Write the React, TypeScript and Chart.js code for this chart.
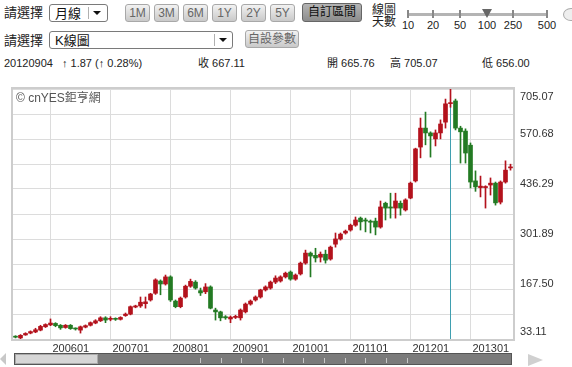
import React, { useEffect, useRef } from "react";
import { Chart, registerables } from "chart.js";
Chart.register(...registerables);

const months = [
  "200506","200507","200508","200509","200510","200511","200512",
  "200601","200602","200603","200604","200605","200606","200607","200608","200609","200610","200611","200612",
  "200701","200702","200703","200704","200705","200706","200707","200708","200709","200710","200711","200712",
  "200801","200802","200803","200804","200805","200806","200807","200808","200809","200810","200811","200812",
  "200901","200902","200903","200904","200905","200906","200907","200908","200909","200910","200911","200912",
  "201001","201002","201003","201004","201005","201006","201007","201008","201009","201010","201011","201012",
  "201101","201102","201103","201104","201105","201106","201107","201108","201109","201110","201111","201112",
  "201201","201202","201203","201204","201205","201206","201207","201208","201209","201210","201211","201212",
  "201301","201302","201303","201304","201305","201306","201307","201308","201309",
];

const opens = [
  40, 36, 44, 49, 52, 57, 66,
  71, 75, 70, 64, 70, 61, 57, 65, 70, 76, 82, 90,
  86, 87, 86, 96, 100, 119, 122, 128, 138, 156, 189, 181,
  200, 135, 120, 146, 175, 186, 163, 160, 173, 111, 106, 93,
  87, 91, 90, 106, 127, 138, 146, 165, 170, 186, 189, 200,
  213, 194, 208, 237, 264, 258, 253, 261, 248, 288, 302, 318,
  326, 339, 358, 353, 350, 350, 334, 398, 388, 385, 398, 380,
  412, 458, 549, 600, 587, 571, 587, 616, 665.76, 673, 600, 592,
  554, 458, 440, 440, 447, 452, 401, 455, 493,
];
const highs = [
  42, 45, 50, 55, 62, 70, 74,
  87, 77, 72, 72, 72, 63, 68, 71, 79, 85, 93, 93,
  93, 90, 93, 103, 122, 124, 146, 146, 156, 195, 192, 205,
  203, 138, 146, 178, 194, 190, 170, 182, 176, 116, 108, 96,
  95, 97, 114, 130, 138, 149, 167, 176, 189, 203, 203, 213,
  216, 208, 240, 272, 267, 277, 267, 272, 283, 318, 318, 326,
  342, 361, 361, 358, 353, 358, 404, 401, 425, 425, 404, 410,
  455, 546, 627, 643, 590, 595, 622, 678, 705.07, 678, 605, 598,
  560, 485, 471, 445, 466, 455, 458, 512, 503,
];
const lows = [
  36, 34, 43, 47, 50, 55, 64,
  69, 66, 59, 62, 59, 57, 49, 63, 68, 74, 80, 77,
  82, 83, 84, 94, 98, 117, 118, 116, 135, 153, 152, 178,
  134, 117, 117, 143, 172, 167, 150, 155, 114, 84, 82, 86,
  77, 88, 84, 103, 124, 135, 143, 162, 167, 182, 186, 197,
  191, 191, 205, 234, 200, 240, 240, 237, 245, 280, 299, 315,
  323, 336, 326, 321, 318, 313, 331, 353, 358, 358, 366, 377,
  410, 455, 520, 555, 522, 552, 571, 600, 656.0, 595, 506, 506,
  439, 430, 415, 385, 420, 393, 396, 452, 487,
];
const closes = [
  38, 43, 48, 53, 58, 67, 72,
  76, 69, 63, 70, 61, 60, 66, 69, 77, 82, 90, 84,
  87, 86, 91, 100, 120, 122, 132, 133, 154, 192, 181, 200,
  138, 120, 143, 175, 188, 170, 157, 173, 116, 106, 90, 90,
  92, 94, 111, 127, 135, 146, 165, 173, 186, 197, 200, 210,
  194, 205, 237, 264, 256, 251, 261, 245, 280, 302, 315, 323,
  339, 353, 348, 350, 347, 334, 388, 385, 385, 404, 385, 407,
  452, 544, 600, 587, 579, 587, 611, 665.24, 667.11, 600, 590, 533,
  455, 442, 444, 443, 452, 399, 455, 487, 495,
];

const yMin = 33.11;
const yMax = 705.07;
const yTickValues = [33.11, 167.5, 301.89, 436.29, 570.68, 705.07];
const yTickLabels = ["33.11", "167.50", "301.89", "436.29", "570.68", "705.07"];
const cursorMonth = "201209";
const cursorDate = "20120904";
const rangeButtons = ["1M", "3M", "6M", "1Y", "2Y", "5Y"];
const dayLabels = ["10", "20", "50", "100", "250", "500"];

const UP = "#b3121c";
const DOWN = "#237a23";
const FONT = 'Arial, "Liberation Sans", "Noto Sans CJK TC", sans-serif';

const candleColors = months.map((_, i) => (closes[i] >= opens[i] ? UP : DOWN));

const overlayPlugin = {
  id: "overlay",
  beforeDatasetsDraw(chart: any) {
    const { ctx, chartArea, scales } = chart;
    const idx = months.indexOf(cursorMonth);
    const px = Math.floor(scales.x.getPixelForValue(idx)) + 0.5;
    ctx.save();
    ctx.strokeStyle = "#3f9fb0";
    ctx.lineWidth = 1;
    ctx.beginPath();
    ctx.moveTo(px, chartArea.top);
    ctx.lineTo(px, chartArea.bottom);
    ctx.stroke();
    ctx.font = "12px " + FONT;
    ctx.fillStyle = "#555";
    ctx.textBaseline = "middle";
    ctx.textAlign = "left";
    ctx.fillText("© cnYES鉅亨網", chartArea.left + 3, chartArea.top + 10);
    ctx.restore();
  },
  afterDraw(chart: any) {
    const { ctx, chartArea, scales } = chart;
    ctx.save();
    ctx.strokeStyle = "#cdcdcd";
    ctx.lineWidth = 2;
    ctx.strokeRect(chartArea.left - 1, chartArea.top - 1, chartArea.right - chartArea.left + 2, chartArea.bottom - chartArea.top + 2);
    ctx.font = "11px " + FONT;
    ctx.fillStyle = "#333";
    ctx.textBaseline = "middle";
    ctx.textAlign = "left";
    yTickValues.forEach((v, i) => {
      let py = scales.y.getPixelForValue(v) - 5;
      py = Math.max(chartArea.top + 8, Math.min(chartArea.bottom - 7, py));
      ctx.fillText(yTickLabels[i], chartArea.right + 7, py);
    });
    ctx.restore();
  },
};

function KChart() {
  const ref = useRef<HTMLCanvasElement | null>(null);
  useEffect(() => {
    if (!ref.current) return;
    const yGrid = Array.from({ length: 11 }, (_, k) => yMin + (k * (yMax - yMin)) / 10);
    const chart = new Chart(ref.current, {
      type: "bar",
      data: {
        labels: months,
        datasets: [
          {
            data: months.map((_, i) => [opens[i], closes[i]]) as any,
            backgroundColor: candleColors,
            barThickness: 4,
            minBarLength: 1,
            grouped: false,
            order: 0,
          } as any,
          {
            data: months.map((_, i) => [lows[i], highs[i]]) as any,
            backgroundColor: candleColors,
            barThickness: 1,
            grouped: false,
            order: 1,
          } as any,
        ],
      },
      options: {
        animation: false,
        responsive: false,
        events: [],
        layout: { padding: { left: 13, top: 4, right: 0, bottom: 0 } },
        plugins: { legend: { display: false }, tooltip: { enabled: false } },
        scales: {
          x: {
            type: "category",
            offset: true,
            grid: { offset: false, color: "#dcdcdc", drawTicks: false },
            border: { display: false },
            ticks: {
              autoSkip: false,
              maxRotation: 0,
              minRotation: 0,
              align: "start",
              labelOffset: 2,
              padding: 3,
              color: "#333",
              font: { size: 11, family: FONT },
              callback: (v: any) => months[v],
            },
            afterBuildTicks: (scale: any) => {
              scale.ticks = months
                .map((m, i) => ({ value: i, m }))
                .filter((t) => t.m.endsWith("01"))
                .map((t) => ({ value: t.value }));
            },
            afterFit: (scale: any) => {
              scale.height = 28;
            },
          } as any,
          y: {
            position: "right",
            min: yMin,
            max: yMax,
            grid: { color: "#dcdcdc", drawTicks: false },
            border: { display: false },
            ticks: { display: false },
            afterBuildTicks: (scale: any) => {
              scale.ticks = yGrid.map((v) => ({ value: v }));
            },
            afterFit: (scale: any) => {
              scale.width = 59;
            },
          } as any,
        },
      },
      plugins: [overlayPlugin],
    });
    return () => chart.destroy();
  }, []);
  return <canvas ref={ref} width={572} height={282} style={{ position: "absolute", left: 0, top: 85, width: 572, height: 282 }} />;
}

const abs = (l: number, t: number, extra: any = {}) => ({ position: "absolute" as const, left: l, top: t, ...extra });

function Arrow({ x, y }: { x: number; y: number }) {
  return <div style={abs(x, y, { width: 0, height: 0, borderLeft: "4px solid transparent", borderRight: "4px solid transparent", borderTop: "4px solid #111" })} />;
}

function SelectBox({ x, y, w, text, div }: { x: number; y: number; w: number; text: string; div: number }) {
  return (
    <div style={abs(x, y, { width: w, height: 18, border: "1px solid #7a7a7a", borderRadius: 3, background: "#fff", boxSizing: "border-box" })}>
      <div style={abs(5, 1, { fontSize: 13, lineHeight: "15px", color: "#111" })}>{text}</div>
      <div style={abs(div, 2, { width: 1, height: 12, background: "#b0b0b0" })} />
      <Arrow x={div + 5} y={6} />
    </div>
  );
}

function Btn({ x, y, w, h, text, dark }: { x: number; y: number; w: number; h: number; text: string; dark?: boolean }) {
  return (
    <div
      style={abs(x, y, {
        width: w,
        height: h,
        boxSizing: "border-box",
        border: dark ? "1px solid #666" : "1px solid #a8a8a8",
        borderRadius: 3,
        background: dark ? "linear-gradient(#b4b4b4, #8c8c8c)" : "linear-gradient(#f2f2f2, #c9c9c9)",
        color: dark ? "#111" : "#666",
        fontSize: 12,
        lineHeight: h - 2 + "px",
        textAlign: "center",
        whiteSpace: "nowrap",
      })}
    >
      {text}
    </div>
  );
}

export default function App() {
  const idx = months.indexOf(cursorMonth);
  const chg = closes[idx] - closes[idx - 1];
  const pct = (chg / closes[idx - 1]) * 100;
  const sliderX = [408, 433, 460, 487, 513, 547];
  const scrollTicks = [200, 221, 241, 262, 283, 303, 324, 345, 365, 386, 407];
  return (
    <div style={{ position: "fixed", left: 0, top: 0, width: 572, height: 367, background: "#fff", overflow: "hidden", fontFamily: FONT, color: "#222" }}>
      {/* Row 1 */}
      <div style={abs(4, 5, { fontSize: 13, lineHeight: "16px" })}>請選擇</div>
      <SelectBox x={49} y={4} w={59} text="月線" div={38} />
      {rangeButtons.map((b, i) => (
        <Btn key={b} x={125 + i * 29} y={4} w={25} h={18} text={b} />
      ))}
      <Btn x={302} y={3} w={60} h={19} text="自訂區間" dark />
      <div style={abs(372, 4, { fontSize: 12, lineHeight: "12px", color: "#222" })}>
        線圖
        <br />
        天數
      </div>
      <div style={abs(407, 13, { width: 141, height: 3, background: "#b4b4b4" })} />
      {sliderX.map((x, i) =>
        i === 3 ? (
          <div key={i} style={abs(x - 5, 9, { width: 0, height: 0, borderLeft: "5px solid transparent", borderRight: "5px solid transparent", borderTop: "9px solid #666" })} />
        ) : (
          <div key={i} style={abs(x - 1, 10, { width: 2, height: 8, background: "#888" })} />
        )
      )}
      {dayLabels.map((t, i) => (
        <div key={t} style={abs(sliderX[i] - 15, 19, { width: 30, textAlign: "center", fontSize: 11, lineHeight: "12px", color: "#222" })}>
          {t}
        </div>
      ))}
      <div style={abs(563, 8, { width: 14, height: 11, border: "1px solid #aaa", borderRadius: "50%", background: "#eee" })} />

      {/* Row 2 */}
      <div style={abs(4, 33, { fontSize: 13, lineHeight: "16px" })}>請選擇</div>
      <SelectBox x={49} y={31} w={184} text="K線圖" div={164} />
      <Btn x={245} y={30} w={54} h={18} text="自設參數" />

      {/* Row 3 */}
      <div style={abs(4, 57, { fontSize: 11, lineHeight: "13px" })}>{cursorDate}</div>
      <div style={abs(62, 57, { fontSize: 11, lineHeight: "13px" })}>
        ↑ {chg.toFixed(2)} (↑ {pct.toFixed(2)}%)
      </div>
      <div style={abs(198, 57, { fontSize: 11, lineHeight: "13px" })}>收 {closes[idx].toFixed(2)}</div>
      <div style={abs(327, 57, { fontSize: 11, lineHeight: "13px" })}>開 {opens[idx].toFixed(2)}</div>
      <div style={abs(390, 57, { fontSize: 11, lineHeight: "13px" })}>高 {highs[idx].toFixed(2)}</div>
      <div style={abs(482, 57, { fontSize: 11, lineHeight: "13px" })}>低 {lows[idx].toFixed(2)}</div>

      <KChart />

      {/* Scrollbar */}
      <div style={abs(0, 353, { width: 0, height: 0, borderTop: "6px solid transparent", borderBottom: "6px solid transparent", borderRight: "6px solid #c8c8c8" })} />
      <div style={abs(14, 353, { width: 498, height: 12, boxSizing: "border-box", border: "1px solid #555", background: "#7b7b7b" })} />
      <div style={abs(15, 354, { width: 83, height: 10, boxSizing: "border-box", border: "1px solid #aaa", background: "#d6d6d6" })} />
      {scrollTicks.map((x) => (
        <div key={x} style={abs(x, 358, { width: 1, height: 5, background: "#c8c8c8" })} />
      ))}
      <div style={abs(528, 354, { width: 0, height: 0, borderTop: "6px solid transparent", borderBottom: "6px solid transparent", borderLeft: "15px solid #d0d0d0" })} />
    </div>
  );
}
